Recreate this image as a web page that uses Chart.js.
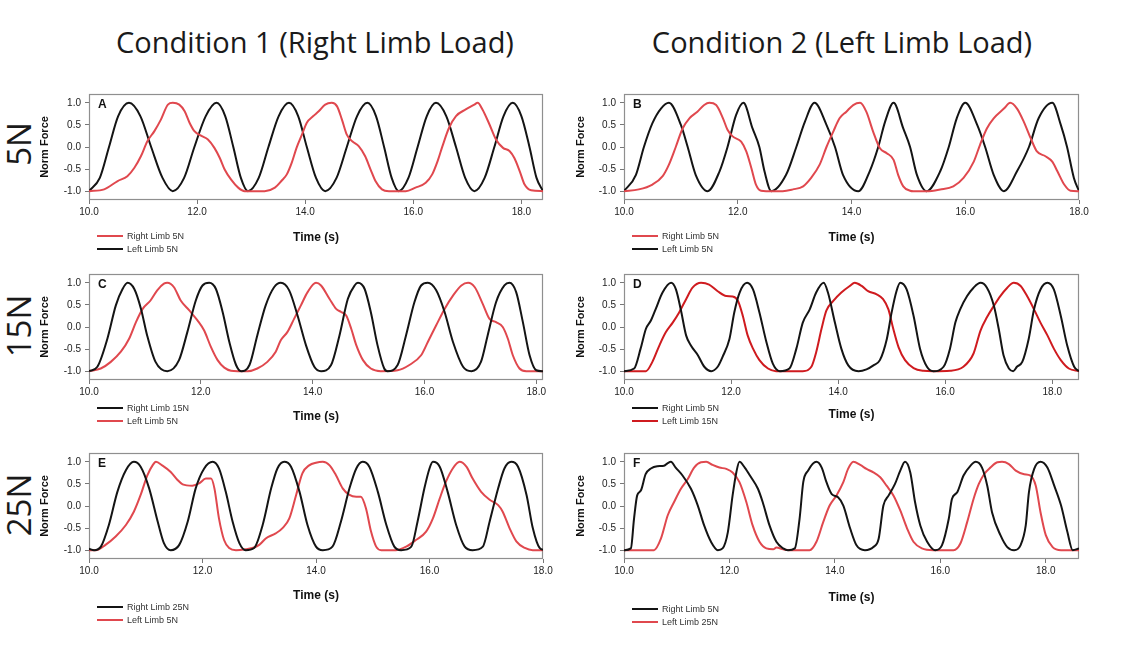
<!DOCTYPE html>
<html lang="en">
<head>
<meta charset="UTF-8">
<meta name="viewport" content="width=device-width, initial-scale=1.0">
<title>Norm Force - Limb Load Conditions</title>
<script src="https://cdn.jsdelivr.net/npm/chart.js"></script>
<style>
    body {
      margin: 0;
      background: #fff;
      width: 1138px;
      height: 646px;
      position: relative;
      overflow: hidden;
      font-family: "Liberation Sans", Arial, sans-serif;
    }
    .cond {
      position: absolute;
      top: 22px;
      width: 600px;
      line-height: 40px;
      text-align: center;
      font-family: "Open Sans", sans-serif;
      font-size: 29px;
      color: #1a1a1a;
    }
    .load {
      position: absolute;
      left: 18px;
      white-space: nowrap;
      line-height: 1;
      font-family: "Open Sans", sans-serif;
      font-size: 33px;
      color: #1a1a1a;
      transform: translate(-50%, -50%) rotate(-90deg);
    }
    canvas {
      position: absolute;
    }
</style>
</head>
<body>
<div class="cond" style="left:15px">Condition 1 (Right Limb Load)</div>
<div class="cond" style="left:542px">Condition 2 (Left Limb Load)</div>
<div class="load" style="top:144px">5N</div>
<div class="load" style="top:326px">15N</div>
<div class="load" style="top:505px">25N</div>

<script>
    // axis ticks
    const xTicks = [10, 12, 14, 16, 18];
    const yTicks = [-1, -0.5, 0, 0.5, 1];

    // Panel A - Condition 1, 5N
    const timeARight = [10.00,10.28,10.53,10.71,10.84,10.96,11.08,11.21,11.33,11.46,11.55,
      11.67,11.77,11.86,11.95,12.08,12.20,12.32,12.42,12.51,12.63,12.76,12.88,
      13.25,13.44,13.56,13.66,13.75,13.84,13.94,14.03,14.15,14.25,14.37,14.49,
      14.59,14.68,14.77,14.87,14.99,15.11,15.21,15.30,15.42,15.55,
      15.86,16.04,16.23,16.35,16.45,16.54,16.66,16.79,16.97,17.13,17.19,
      17.28,17.41,17.53,17.66,17.78,17.87,17.97,18.06,18.18,18.40];
    const forceARight = [-1.0,-0.96,-0.77,-0.66,-0.47,-0.21,0.13,0.36,0.62,0.96,1.0,
      0.96,0.81,0.55,0.36,0.25,0.17,-0.02,-0.25,-0.51,-0.74,-0.92,-1.0,
      -1.0,-0.92,-0.77,-0.62,-0.36,-0.02,0.28,0.55,0.70,0.81,0.96,1.0,
      0.92,0.62,0.28,0.13,0.02,-0.21,-0.51,-0.77,-0.96,-1.0,
      -1.0,-0.92,-0.81,-0.62,-0.32,0.02,0.43,0.70,0.85,0.96,1.0,
      0.85,0.51,0.17,-0.02,-0.09,-0.25,-0.55,-0.85,-0.98,-1.0];
    const timeALeft = [10.00,10.20,10.37,10.54,10.74, 10.95,11.15,11.36,11.55,
      11.76,11.95,12.16,12.36, 12.52,12.67,12.81,12.94, 13.14,13.32,13.51,13.70,
      13.87,14.03,14.20,14.37, 14.58,14.77,14.96,15.15, 15.31,15.46,15.60,15.73,
      15.91,16.08,16.25,16.42, 16.61,16.79,16.96,17.13, 17.32,17.50,17.67,17.84,
      18.00,18.15,18.28,18.40];
    const forceALeft = [-1,-0.7,0,0.7,1, 0.7,0,-0.7,-1,
      -0.7,0,0.7,1, 0.7,0,-0.7,-1, -0.7,0,0.7,1,
      0.7,0,-0.7,-1, -0.7,0,0.7,1, 0.7,0,-0.7,-1,
      -0.7,0,0.7,1, 0.7,0,-0.7,-1, -0.7,0,0.7,1,
      0.7,0,-0.7,-1];

    // Panel B - Condition 2, 5N
    const timeBRight = [10.00,10.26,10.50,10.68,10.79,10.91,11.03,11.15,11.29,11.41,11.50,
      11.62,11.74,11.82,11.91,12.06,12.15,12.24,12.32,12.41,12.50,
      12.79,12.97,13.15,13.29,13.44,13.56,13.68,13.79,13.91,14.03,14.15,
      14.26,14.38,14.50,14.62,14.74,14.82,14.91,15.03,15.09,
      15.32,15.56,15.79,15.97,16.15,16.26,16.38,16.50,16.68,16.79,
      16.91,17.03,17.15,17.26,17.41,17.53,17.62,17.74,17.85,18.00];
    const forceBRight = [-1.0,-0.96,-0.85,-0.66,-0.40,0.0,0.42,0.65,0.80,0.95,1.0,
      0.95,0.65,0.39,0.24,0.12,-0.10,-0.48,-0.85,-0.99,-1.0,
      -1.0,-0.96,-0.89,-0.70,-0.40,0.0,0.35,0.65,0.80,0.95,1.0,
      0.80,0.35,-0.03,-0.14,-0.29,-0.63,-0.89,-0.99,-1.0,
      -1.0,-0.96,-0.89,-0.70,-0.33,0.05,0.42,0.65,0.87,1.0,
      0.87,0.57,0.20,-0.10,-0.21,-0.33,-0.55,-0.85,-0.99,-1.0];
    const timeBLeft = [10.00,10.21,10.35,10.50,10.65,10.79, 11.00,11.12,11.26,11.47,
      11.68,11.82,11.97,12.10, 12.26,12.38,12.47,12.59, 12.85,13.03,13.18,13.35,
      13.56,13.71,13.85,14.12, 14.32,14.47,14.59,14.74, 14.91,15.03,15.15,15.32,
      15.56,15.71,15.85,16.00, 16.21,16.35,16.50,16.68, 16.91,17.12,17.29,17.53,
      17.68,17.79,17.91,18.00];
    const forceBLeft = [-1.0,-0.63,0.0,0.54,0.87,1.0, 0.5,0.0,-0.63,-1.0,
      -0.55,0.0,0.72,1.0, 0.42,0.0,-0.55,-1.0, -0.63,0.0,0.57,1.0,
      0.5,0.0,-0.63,-1.0, -0.55,0.0,0.57,1.0, 0.42,0.0,-0.63,-1.0,
      -0.55,0.0,0.65,1.0, 0.5,0.0,-0.63,-1.0, -0.55,0.0,0.65,1.0,
      0.5,0.0,-0.70,-1.0];

    // Panel C - Condition 1, 15N
    const timeCRight = [10.00,10.15,10.33,10.48,10.60,10.69, 10.81,10.93,11.04,11.19,11.40,
      11.61,11.76,11.91,12.03,12.15, 12.27,12.39,12.51,12.63,12.72,
      12.87,13.01,13.16,13.31,13.43, 13.58,13.73,13.88,14.03,14.15,
      14.33,14.48,14.63,14.75,14.81, 14.93,15.04,15.16,15.28,15.34,
      15.52,15.67,15.82,15.94,16.06, 16.21,16.36,16.51,16.69,16.84,
      17.01,17.13,17.28,17.43,17.52, 17.64,17.76,17.88,18.00,18.12];
    const forceCRight = [-1.0,-0.90,-0.26,0.49,0.86,1.0, 0.86,0.41,-0.19,-0.79,-1.0,
      -0.75,-0.11,0.60,0.94,1.0, 0.86,0.34,-0.34,-0.86,-1.0,
      -0.86,-0.19,0.49,0.90,1.0, 0.83,0.26,-0.41,-0.90,-1.0,
      -0.86,-0.19,0.64,0.94,1.0, 0.86,0.34,-0.41,-0.94,-1.0,
      -0.86,-0.19,0.56,0.94,1.0, 0.83,0.34,-0.34,-0.90,-1.0,
      -0.79,-0.19,0.56,0.94,1.0, 0.79,0.11,-0.64,-0.98,-1.0];
    const timeCLeft = [10.00,10.21,10.39,10.57,10.72,10.84,10.96,11.10,11.22,11.34,11.40,
      11.52,11.64,11.79,11.94,12.06,12.18,12.30,12.42,12.54,12.66,
      12.84,13.01,13.19,13.34,13.43,13.55,13.67,13.79,13.91,14.06,
      14.15,14.30,14.42,14.51,14.60,14.69,14.78,14.90,15.04,15.22,
      15.52,15.73,15.94,16.06,16.21,16.36,16.51,16.66,16.78,
      16.90,17.04,17.16,17.28,17.40,17.49,17.58,17.70,17.82,18.12];
    const forceCLeft = [-1.0,-0.94,-0.79,-0.56,-0.26,0.11,0.41,0.60,0.83,0.98,1.0,
      0.90,0.60,0.38,0.15,-0.08,-0.45,-0.75,-0.92,-0.99,-1.0,
      -1.0,-0.94,-0.79,-0.56,-0.30,-0.11,0.19,0.49,0.79,1.0,
      0.94,0.64,0.41,0.34,0.26,-0.04,-0.41,-0.75,-0.94,-1.0,
      -0.98,-0.86,-0.64,-0.34,0.04,0.41,0.71,0.94,1.0,
      0.90,0.53,0.19,0.11,0.0,-0.26,-0.64,-0.94,-1.0,-1.0];

    // Panel D - Condition 2, 15N
    const timeDRight = [10.00,10.19,10.31,10.41,10.50,10.59,10.72,10.88,
      10.97,11.06,11.16,11.25,11.38,11.50,11.63, 11.75,11.84,11.97,12.06,12.16,12.30,
      12.41,12.53,12.66,12.78,12.91, 13.09,13.22,13.34,13.47,13.59,13.73,
      13.81,13.94,14.06,14.19,14.38, 14.53,14.66,14.78,14.91,15.00,15.09,15.16,
      15.28,15.41,15.53,15.66,15.78, 15.97,16.09,16.19,16.28,16.41,16.53,16.66,
      16.78,16.91,17.00,17.09,17.19,17.27, 17.34,17.44,17.56,17.66,17.78,17.91,
      18.03,18.16,18.28,18.41,18.50];
    const forceDRight = [-1.0,-0.94,-0.49,-0.04,0.14,0.40,0.78,1.0,
      0.85,0.40,-0.19,-0.42,-0.64,-0.90,-1.0, -0.90,-0.68,-0.27,0.33,0.78,1.0,
      0.85,0.33,-0.34,-0.83,-1.0, -0.94,-0.49,0.10,0.40,0.78,1.0,
      0.78,0.10,-0.49,-0.87,-1.0, -0.96,-0.87,-0.75,-0.27,0.33,0.81,1.0,
      0.85,0.25,-0.49,-0.90,-1.0, -0.90,-0.49,0.10,0.40,0.70,0.89,1.0,
      0.89,0.48,-0.04,-0.64,-0.94,-1.0, -0.90,-0.79,-0.27,0.40,0.85,1.0,
      0.85,0.25,-0.42,-0.90,-1.0];
    const timeDLeft = [10.00,10.41,10.53,10.66,10.78,10.91,11.03,11.16,11.28,11.44,
      11.59,11.75,11.91,12.03,12.13,12.22,12.31,12.41,12.53,12.69,12.84,
      13.34,13.50,13.59,13.69,13.78,13.91,14.06,14.22,14.31,
      14.44,14.56,14.72,14.84,14.94,15.03,15.13,15.25,15.41,15.59,15.78,
      16.09,16.34,16.53,16.66,16.78,16.91,17.03,17.16,17.28,
      17.41,17.53,17.66,17.78,17.91,18.03,18.16,18.31,18.50];
    const forceDLeft = [-1.0,-1.0,-0.79,-0.42,-0.12,0.10,0.33,0.63,0.89,1.0,
      0.96,0.81,0.70,0.69,0.59,0.25,-0.19,-0.49,-0.75,-0.94,-1.0,
      -1.0,-0.90,-0.57,-0.04,0.37,0.59,0.78,0.93,1.0,
      0.93,0.81,0.74,0.63,0.40,-0.04,-0.46,-0.75,-0.93,-0.99,-1.0,
      -0.99,-0.90,-0.60,-0.08,0.22,0.48,0.70,0.89,1.0,
      0.93,0.70,0.40,0.10,-0.19,-0.49,-0.75,-0.94,-1.0];

    // Panel E - Condition 1, 25N
    const timeERight = [10.00,10.09,10.21,10.35,10.50,10.65,10.79, 10.91,11.06,11.21,11.32,11.44,
      11.59,11.74,11.88,12.03,12.18, 12.29,12.41,12.53,12.65,12.76,
      12.91,13.06,13.21,13.32,13.44, 13.56,13.71,13.85,14.00,14.12,
      14.29,14.44,14.59,14.71,14.82, 14.94,15.09,15.24,15.38,15.50,
      15.68,15.79,15.91,16.00,16.06, 16.18,16.32,16.47,16.62,16.76,
      16.94,17.06,17.21,17.32,17.44, 17.56,17.71,17.82,17.94,18.03];
    const forceERight = [-0.97,-1.0,-0.92,-0.43,0.32,0.81,1.0, 0.89,0.40,-0.35,-0.84,-1.0,
      -0.88,-0.35,0.40,0.85,1.0, 0.85,0.32,-0.35,-0.84,-1.0,
      -0.95,-0.43,0.40,0.85,1.0, 0.89,0.32,-0.43,-0.92,-1.0,
      -0.92,-0.35,0.40,0.85,1.0, 0.89,0.32,-0.43,-0.92,-1.0,
      -0.92,-0.35,0.40,0.85,1.0, 0.89,0.32,-0.43,-0.92,-1.0,
      -0.92,-0.35,0.40,0.85,1.0, 0.89,0.25,-0.50,-0.95,-1.0];
    const timeELeft = [10.00,10.12,10.29,10.47,10.65,10.79,10.91,11.03,11.12,11.18,
      11.29,11.44,11.56,11.65,11.82,11.94,12.06,12.15,12.21,12.29,12.38,12.47,12.59,
      12.76,12.88,13.00,13.12,13.29,13.41,13.53,13.65,13.76,13.88,14.00,14.12,
      14.24,14.35,14.47,14.59,14.71,14.79,14.88,14.97,15.06,15.15,
      15.41,15.59,15.76,15.94,16.06,16.18,16.29,16.41,16.53,
      16.65,16.76,16.91,17.06,17.21,17.29,17.41,17.53,17.68,17.82,18.03];
    const forceELeft = [-1.0,-1.0,-0.88,-0.69,-0.43,-0.13,0.25,0.70,0.92,1.0,
      0.92,0.77,0.59,0.49,0.46,0.51,0.62,0.62,0.40,-0.28,-0.77,-0.95,-1.0,
      -0.98,-0.95,-0.88,-0.73,-0.62,-0.50,-0.28,0.25,0.74,0.92,0.98,1.0,
      0.92,0.70,0.40,0.25,0.21,0.21,-0.05,-0.58,-0.92,-1.0,
      -1.0,-0.92,-0.77,-0.58,-0.28,0.17,0.55,0.85,1.0,
      0.89,0.62,0.32,0.14,0.02,-0.13,-0.50,-0.80,-0.95,-1.0,-1.0];

    // Panel F - Condition 2, 25N
    const timeFRight = [10.00,10.13,10.19,10.25,10.32,10.41,10.51,10.63,10.76,10.83,10.89,
      10.98,11.11,11.27,11.40,11.52,11.65,11.78, 11.87,11.97,12.06,12.13,12.19,
      12.29,12.41,12.54,12.63,12.76,12.89,13.02,13.11, 13.24,13.33,13.40,13.49,13.65,
      13.75,13.84,13.94,14.06,14.16,14.29,14.41,14.57, 14.73,14.83,14.92,15.02,15.14,15.24,15.33,
      15.43,15.52,15.62,15.75,15.90, 16.03,16.16,16.22,16.32,16.44,16.57,16.67,
      16.79,16.89,16.98,17.14,17.27,17.40, 17.52,17.62,17.68,17.78,17.90,
      18.03,18.16,18.29,18.41,18.51,18.63];
    const forceFRight = [-1.0,-0.96,-0.29,0.24,0.35,0.72,0.85,0.90,0.91,0.97,1.0,
      0.87,0.69,0.39,0.01,-0.44,-0.81,-1.0, -0.96,-0.59,0.24,0.76,1.0,
      0.87,0.65,0.39,0.09,-0.44,-0.81,-0.96,-1.0, -0.96,-0.29,0.54,0.80,1.0,
      0.87,0.54,0.27,0.20,0.01,-0.51,-0.89,-1.0, -0.93,-0.74,0.01,0.24,0.50,0.80,1.0,
      0.76,0.09,-0.44,-0.81,-1.0, -0.89,-0.29,0.16,0.31,0.69,0.91,1.0,
      0.87,0.46,-0.14,-0.66,-0.93,-1.0, -0.89,-0.44,0.31,0.84,1.0,
      0.87,0.46,0.01,-0.59,-1.0,-0.96];
    const timeFLeft = [10.00,10.57,10.70,10.83,10.95,11.08,11.21,11.33,11.46,11.56,
      11.68,11.81,11.94,12.06,12.19,12.32,12.44,12.57,12.70,12.83,12.89,13.02,13.14,
      13.52,13.65,13.78,13.90,14.03,14.16,14.25,14.35,
      14.48,14.60,14.73,14.86,14.98,15.11,15.24,15.37,15.49,15.65,15.87,
      16.25,16.38,16.51,16.63,16.73,16.83,16.95,17.08,17.17,
      17.30,17.43,17.59,17.71,17.81,17.90,18.00,18.13,18.29,18.63];
    const forceFLeft = [-1.0,-1.0,-0.74,-0.21,0.09,0.39,0.61,0.87,0.99,1.0,
      0.93,0.87,0.84,0.76,0.54,0.09,-0.44,-0.81,-0.96,-0.98,-0.94,-0.98,-1.0,
      -1.0,-0.81,-0.36,0.01,0.24,0.54,0.84,1.0,
      0.93,0.84,0.76,0.65,0.46,0.24,-0.10,-0.51,-0.81,-0.96,-1.0,
      -1.0,-0.85,-0.36,0.16,0.50,0.72,0.87,0.99,1.0,
      0.95,0.80,0.72,0.69,0.46,-0.14,-0.66,-0.93,-1.0,-1.0];

    const RED = '#e0484e';
    const DEEP_RED = '#cf1b1f';
    const BLACK = '#141414';

    // page layout of the two columns and three rows of plots
    const cols = [
      { left: 30, width: 530, L: 89, R: 543, titleX: 15 },
      { left: 565, width: 573, L: 624, R: 1079, titleX: 16 }
    ];
    const rows = [
      { top: 84, height: 176, T: 94, B: 200 },
      { top: 264, height: 176, T: 274, B: 380 },
      { top: 443, height: 197, T: 453, B: 559 }
    ];

    const panels = [
      { letter: 'A', col: 0, row: 0, xMax: 18.4, legendDy: 36, timeDy: 38, series: [
        { label: 'Right Limb 5N', t: timeARight, f: forceARight, color: RED },
        { label: 'Left Limb 5N', t: timeALeft, f: forceALeft, color: BLACK }] },
      { letter: 'B', col: 1, row: 0, xMax: 18.0, legendDy: 36, timeDy: 38, series: [
        { label: 'Right Limb 5N', t: timeBRight, f: forceBRight, color: RED },
        { label: 'Left Limb 5N', t: timeBLeft, f: forceBLeft, color: BLACK }] },
      { letter: 'C', col: 0, row: 1, xMax: 18.12, legendDy: 28, timeDy: 37, series: [
        { label: 'Right Limb 15N', t: timeCRight, f: forceCRight, color: BLACK },
        { label: 'Left Limb 5N', t: timeCLeft, f: forceCLeft, color: RED }] },
      { letter: 'D', col: 1, row: 1, xMax: 18.5, legendDy: 28, timeDy: 35, series: [
        { label: 'Right Limb 5N', t: timeDRight, f: forceDRight, color: BLACK },
        { label: 'Left Limb 15N', t: timeDLeft, f: forceDLeft, color: DEEP_RED }] },
      { letter: 'E', col: 0, row: 2, xMax: 18.0, legendDy: 48, timeDy: 37, series: [
        { label: 'Right Limb 25N', t: timeERight, f: forceERight, color: BLACK },
        { label: 'Left Limb 5N', t: timeELeft, f: forceELeft, color: RED }] },
      { letter: 'F', col: 1, row: 2, xMax: 18.63, legendDy: 50, timeDy: 39, series: [
        { label: 'Right Limb 5N', t: timeFRight, f: forceFRight, color: BLACK },
        { label: 'Left Limb 25N', t: timeFLeft, f: forceFLeft, color: RED }] }
    ];

    // frame around the plot, panel letter and the small legend under it
    const decorate = (p) => ({
      id: 'decorate' + p.letter,
      beforeDatasetsDraw(chart) {
        const a = chart.chartArea, ctx = chart.ctx;
        ctx.save();
        ctx.strokeStyle = '#8f8f8f';
        ctx.lineWidth = 1.2;
        ctx.strokeRect(a.left + 0.5, a.top + 0.5, a.right - a.left - 1, a.bottom - a.top - 1);
        ctx.restore();
      },
      afterDraw(chart) {
        const a = chart.chartArea, ctx = chart.ctx;
        ctx.save();
        ctx.fillStyle = '#111';
        ctx.font = 'bold 12px "Liberation Sans", Arial, sans-serif';
        ctx.textBaseline = 'middle';
        ctx.fillText(p.letter, a.left + 9, a.top + 11);

        ctx.font = '9px "Liberation Sans", Arial, sans-serif';
        p.series.forEach((s, i) => {
          const y = a.bottom + p.legendDy + i * 13;
          ctx.strokeStyle = s.color;
          ctx.lineWidth = 2;
          ctx.beginPath();
          ctx.moveTo(a.left + 8, y);
          ctx.lineTo(a.left + 34, y);
          ctx.stroke();
          ctx.fillStyle = '#333';
          ctx.fillText(s.label, a.left + 38, y + 0.5);
        });
        ctx.restore();
      }
    });

    panels.forEach((p) => {
      const col = cols[p.col];
      const row = rows[p.row];
      const canvas = document.createElement('canvas');
      canvas.width = col.width;
      canvas.height = row.height;
      canvas.style.left = col.left + 'px';
      canvas.style.top = row.top + 'px';
      document.body.appendChild(canvas);

      const xAxisH = row.top + row.height - row.B;

      new Chart(canvas, {
        type: 'line',
        data: {
          datasets: p.series.map((s) => ({
            label: s.label,
            data: s.t.map((t, i) => ({ x: t, y: s.f[i] })),
            borderColor: s.color,
            borderWidth: 2,
            pointRadius: 0,
            fill: false,
            cubicInterpolationMode: 'monotone'
          }))
        },
        options: {
          responsive: false,
          animation: false,
          layout: {
            padding: { top: row.T - row.top, right: col.left + col.width - col.R, left: 0, bottom: 0 }
          },
          plugins: {
            legend: { display: false },
            tooltip: { enabled: false }
          },
          scales: {
            x: {
              type: 'linear',
              min: 10,
              max: p.xMax,
              afterBuildTicks: (scale) => { scale.ticks = xTicks.map((v) => ({ value: v })); },
              afterFit: (scale) => { scale.height = xAxisH; },
              border: { display: false },
              grid: { drawOnChartArea: false, drawTicks: true, tickLength: 4, color: '#777' },
              ticks: {
                padding: 2,
                autoSkip: false,
                maxRotation: 0,
                color: '#222',
                font: { family: '"Liberation Sans", Arial, sans-serif', size: 10 },
                callback: (v) => Number(v).toFixed(1)
              },
              title: {
                display: true,
                text: 'Time (s)',
                color: '#111',
                font: { family: '"Liberation Sans", Arial, sans-serif', size: 12, weight: 'bold', lineHeight: 1.2 },
                padding: { top: 0, bottom: xAxisH - p.timeDy - 7.2 }
              }
            },
            y: {
              min: -1.2,
              max: 1.2,
              afterBuildTicks: (scale) => { scale.ticks = yTicks.map((v) => ({ value: v })); },
              afterFit: (scale) => { scale.width = col.L - col.left; },
              border: { display: false },
              grid: { drawOnChartArea: false, drawTicks: true, tickLength: 4, color: '#777' },
              ticks: {
                padding: 4,
                color: '#222',
                font: { family: '"Liberation Sans", Arial, sans-serif', size: 10 },
                callback: (v) => Number(v).toFixed(1)
              },
              title: {
                display: true,
                text: 'Norm Force',
                color: '#111',
                font: { family: '"Liberation Sans", Arial, sans-serif', size: 11, weight: 'bold', lineHeight: 1.2 },
                padding: { top: col.titleX - 6.6, bottom: 0 }
              }
            }
          }
        },
        plugins: [decorate(p)]
      });
    });
</script>
</body>
</html>
